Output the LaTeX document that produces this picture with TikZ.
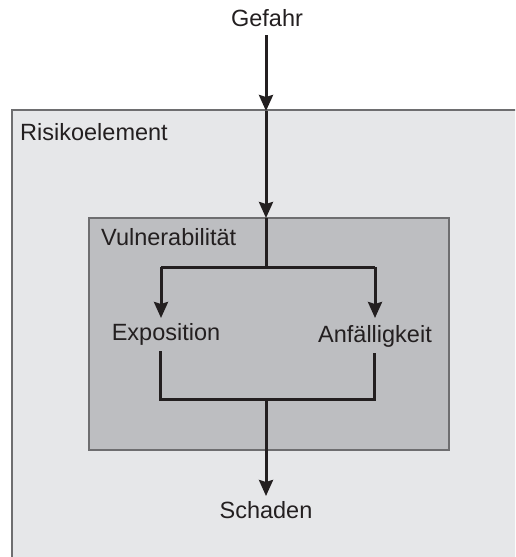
\documentclass[tikz,border=0pt]{standalone}
\usepackage{fontspec}
\setmainfont{Liberation Sans}
\usetikzlibrary{arrows.meta}
\definecolor{outerfill}{HTML}{E6E7E9}
\definecolor{innerfill}{HTML}{BDBEC1}
\definecolor{boxline}{HTML}{6E6E70}
\definecolor{ink}{HTML}{231F20}
\tikzset{
  lbl/.style={inner sep=0pt, font=\fontsize{23.5}{28}\selectfont, text=ink},
  flow/.style={draw=ink, line width=3pt},
  arr/.style={flow, -{Stealth[length=16pt,width=14pt,inset=2pt]}},
  box/.style={draw=boxline, line width=1.2pt}
}
\begin{document}
\begin{tikzpicture}[x=1pt,y=-1pt]
\useasboundingbox (0,0) rectangle (515,557);
\clip (0,0) rectangle (515,557);
% boxes
\path[box, fill=outerfill] (12,110) rectangle (540,580);
\path[box, fill=innerfill] (89,218) rectangle (449,450);
% labels
\node[lbl] (gef) at (267,18) {Gefahr};
\node[lbl, anchor=base west] (ris) at (20,140) {Risikoelement};
\node[lbl, anchor=base west] (vul) at (101,245) {Vulnerabilität};
\node[lbl, anchor=base] (exp) at (166,340.5) {Exposition};
\node[lbl, anchor=base] (anf) at (375,342.5) {Anfälligkeit};
\node[lbl] (sch) at (266,510) {Schaden};
% coordinates
\coordinate (gs) at (266,35);
\coordinate (rtop) at (266,111);
\coordinate (vtop) at (266,218);
\coordinate (j1) at (266,267);
\coordinate (jl) at (161,267);
\coordinate (jr) at (375,267);
\coordinate (el) at (161,318);
\coordinate (ar) at (375,318);
\coordinate (eb) at (160,351);
\coordinate (ab) at (374,353);
\coordinate (bl) at (160,399);
\coordinate (br) at (374,399);
\coordinate (j2) at (266,399);
\coordinate (st) at (266,496);
% connectors
\draw[arr] (gs) -- (rtop);
\draw[arr] (rtop) -- (vtop);
\draw[flow] (vtop) -- (j1);
\draw[flow] (jl) -- (jr);
\draw[arr] (jl) -- (el);
\draw[arr] (jr) -- (ar);
\draw[flow] (eb) -- (bl) -- (br) -- (ab);
\draw[arr] (j2) -- (st);
\end{tikzpicture}
\end{document}
